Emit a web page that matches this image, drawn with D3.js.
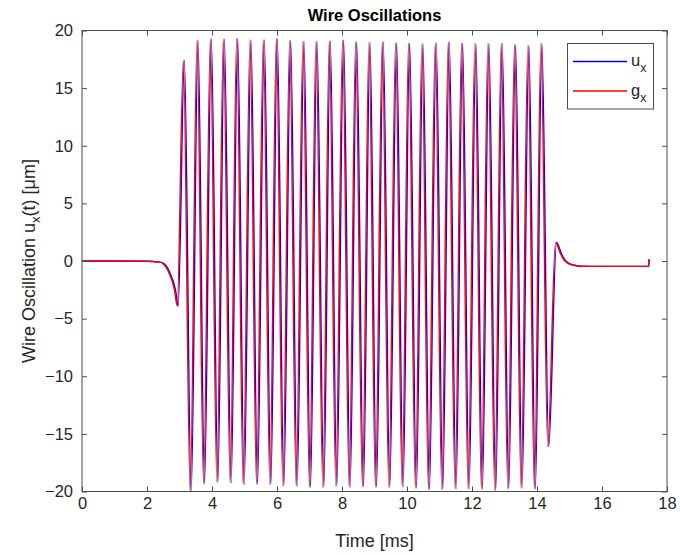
<!DOCTYPE html>
<html><head><meta charset="utf-8">
<script src="https://cdn.jsdelivr.net/npm/d3@7"></script>
<style>body{margin:0;background:#fff}svg{display:block}</style>
</head><body><svg id="c" width="680" height="555"></svg>
<script>
const xTicks = [0, 2, 4, 6, 8, 10, 12, 14, 16, 18];
const yTicks = [-20, -15, -10, -5, 0, 5, 10, 15, 20];
const seriesNames = ["u", "g"];
const seriesColors = ["#0000ff", "#ff0000"];

// u_x key points (time in ms, value in µm)
const uxTime = [0, 1.0, 2.0, 2.2, 2.4, 2.53, 2.63, 2.73, 2.81, 2.88, 2.96,
  3.15, 3.36, 3.57, 3.77, 3.98, 4.18, 4.38, 4.59, 4.79, 4.99,
  5.20, 5.40, 5.61, 5.81, 6.01, 6.21, 6.42, 6.62, 6.83, 7.03,
  7.23, 7.44, 7.64, 7.84, 8.05, 8.25, 8.45, 8.66, 8.86, 9.06,
  9.27, 9.47, 9.68, 9.88, 10.08, 10.29, 10.49, 10.69, 10.90, 11.10,
  11.30, 11.51, 11.71, 11.91, 12.12, 12.32, 12.52, 12.73, 12.93, 13.13,
  13.34, 13.54, 13.75, 13.95, 14.15,
  14.36, 14.60, 14.75, 14.85, 15.0, 15.16, 15.36, 16.0, 17.44, 17.45];
const uxValue = [0, 0, -0.02, -0.05, -0.1, -0.25, -0.6, -1.2, -1.8, -2.6, -3.9,
  17.4, -20.1, 19.15, -19.33, 19.27, -19.2, 19.25, -19.24, 19.3, -19.4,
  19.19, -19.37, 19.19, -19.4, 19.3, -19.5, 19.13, -19.55, 19.07, -19.64,
  19.07, -19.64, 19.1, -19.55, 19.15, -19.64, 19.0, -19.6, 18.97, -19.64,
  19.0, -19.64, 18.93, -19.6, 18.9, -19.7, 18.85, -19.83, 18.93, -19.83,
  19.0, -19.77, 18.9, -19.77, 18.85, -19.8, 18.87, -19.9, 18.87, -19.75,
  18.77, -19.7, 18.7, -19.77, 18.87,
  -16.1, 1.6, 0.65, 0.12, -0.23, -0.37, -0.45, -0.47, -0.47, 0.15];

// g_x key points
const gxTime = [0, 1.0, 2.0, 2.2, 2.4, 2.5, 2.6, 2.7, 2.78, 2.85, 2.93,
  3.12, 3.33, 3.54, 3.74, 3.95, 4.15, 4.35, 4.56, 4.76, 4.96,
  5.17, 5.37, 5.58, 5.78, 5.98, 6.18, 6.39, 6.59, 6.80, 7.00,
  7.20, 7.41, 7.61, 7.81, 8.02, 8.22, 8.42, 8.63, 8.83, 9.03,
  9.24, 9.44, 9.65, 9.85, 10.05, 10.26, 10.46, 10.66, 10.87, 11.07,
  11.27, 11.48, 11.68, 11.88, 12.09, 12.29, 12.49, 12.70, 12.90, 13.10,
  13.31, 13.51, 13.72, 13.92, 14.12,
  14.33, 14.57, 14.72, 14.82, 14.97, 15.13, 15.33, 16.0, 17.44, 17.45];
const gxValue = [0, 0, -0.02, -0.05, -0.1, -0.25, -0.6, -1.2, -1.8, -2.6, -3.9,
  17.4, -20.1, 19.15, -19.33, 19.27, -19.2, 19.25, -19.24, 19.3, -19.4,
  19.19, -19.37, 19.19, -19.4, 19.3, -19.5, 19.13, -19.55, 19.07, -19.64,
  19.07, -19.64, 19.1, -19.55, 19.15, -19.64, 19.0, -19.6, 18.97, -19.64,
  19.0, -19.64, 18.93, -19.6, 18.9, -19.7, 18.85, -19.83, 18.93, -19.83,
  19.0, -19.77, 18.9, -19.77, 18.85, -19.8, 18.87, -19.9, 18.87, -19.75,
  18.77, -19.7, 18.7, -19.77, 18.87,
  -16.1, 1.6, 0.65, 0.12, -0.23, -0.37, -0.45, -0.47, -0.47, 0.15];

const FONT = "'Liberation Sans', Arial, Helvetica, sans-serif";
const TXT = "#262626";
const AX = "#4d4d4d";
const L = 82, R = 667, T = 30.5, B = 491.5;

const svg = d3.select("#c").style("font-family", FONT);
const x = d3.scaleLinear().domain([0, 18]).range([L, R]);
const y = d3.scaleLinear().domain([-20, 20]).range([B, T]);

svg.append("defs").append("clipPath").attr("id", "clip")
  .append("rect").attr("x", L).attr("y", T).attr("width", R - L).attr("height", B - T);

const series = [
  { t: uxTime, v: uxValue, color: seriesColors[0] },
  { t: gxTime, v: gxValue, color: seriesColors[1] }
];
const line = d3.line().x(d => x(d[0])).y(d => y(d[1])).curve(d3.curveMonotoneX);
const plot = svg.append("g").attr("clip-path", "url(#clip)");
series.forEach(s => {
  const pts = s.t.map((t, i) => [t, s.v[i]]);
  plot.append("path").attr("d", line(pts)).attr("fill", "none")
    .attr("stroke", s.color).attr("stroke-width", 1.4).attr("stroke-linejoin", "round");
});

function styleAxis(g, showText) {
  g.select(".domain").remove();
  g.selectAll(".tick line").attr("stroke", AX);
  g.selectAll(".tick text").attr("fill", TXT).style("font-size", "16.5px").style("font-family", FONT);
  if (!showText) g.selectAll(".tick text").remove();
}
svg.append("g").attr("transform", `translate(0,${B})`)
  .call(d3.axisBottom(x).tickValues(xTicks).tickSizeInner(-5).tickSizeOuter(0).tickPadding(6))
  .call(g => styleAxis(g, true));
svg.append("g").attr("transform", `translate(0,${T})`)
  .call(d3.axisTop(x).tickValues(xTicks).tickSizeInner(-5).tickSizeOuter(0))
  .call(g => styleAxis(g, false));
svg.append("g").attr("transform", `translate(${L},0)`)
  .call(d3.axisLeft(y).tickValues(yTicks).tickSizeInner(-5).tickSizeOuter(0).tickPadding(9))
  .call(g => styleAxis(g, true));
svg.append("g").attr("transform", `translate(${R},0)`)
  .call(d3.axisRight(y).tickValues(yTicks).tickSizeInner(-5).tickSizeOuter(0))
  .call(g => styleAxis(g, false));
svg.append("rect").attr("x", L).attr("y", T).attr("width", R - L).attr("height", B - T)
  .attr("fill", "none").attr("stroke", AX).attr("stroke-width", 1);

// Title
svg.append("text").attr("x", (L + R) / 2).attr("y", 21).attr("text-anchor", "middle")
  .attr("fill", "#000").style("font-size", "16.5px").style("font-weight", "bold").text("Wire Oscillations");
// X label
svg.append("text").attr("x", (L + R) / 2).attr("y", 547).attr("text-anchor", "middle")
  .attr("fill", TXT).style("font-size", "18px").text("Time [ms]");
// Y label
const yl = svg.append("text").attr("transform", `translate(35,${(T + B) / 2}) rotate(-90)`)
  .attr("text-anchor", "middle").attr("fill", TXT).style("font-size", "18px");
yl.append("tspan").text("Wire Oscillation u");
yl.append("tspan").attr("dy", 5).style("font-size", "13px").text("x");
yl.append("tspan").attr("dy", -5).text("(t) [μm]");

// Legend
const lg = svg.append("g");
lg.append("rect").attr("x", 567.5).attr("y", 43.5).attr("width", 86).attr("height", 65.5)
  .attr("fill", "#fff").attr("stroke", AX).attr("stroke-width", 1);
const legY = [61.5, 91];
series.forEach((s, i) => {
  lg.append("line").attr("x1", 573).attr("x2", 627).attr("y1", legY[i]).attr("y2", legY[i])
    .attr("stroke", s.color).attr("stroke-width", 1.4);
  const t = lg.append("text").attr("x", 631).attr("y", legY[i] + 4.5).attr("fill", TXT).style("font-size", "16.5px");
  t.append("tspan").text(seriesNames[i]);
  t.append("tspan").attr("dy", 6).style("font-size", "12.5px").text("x");
});
</script>
</body></html>
